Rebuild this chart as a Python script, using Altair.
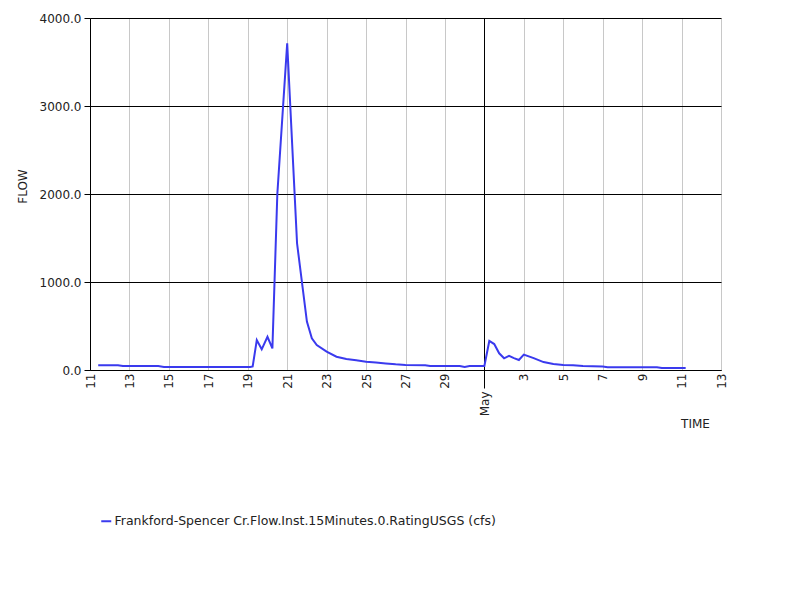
import altair as alt
import pandas as pd

series_name = "Frankford-Spencer Cr.Flow.Inst.15Minutes.0.RatingUSGS (cfs)"

times = [
    "2019-04-11T10:00", "2019-04-12T10:00", "2019-04-12T16:00", "2019-04-14T11:00",
    "2019-04-14T18:00", "2019-04-19T03:00", "2019-04-19T06:00", "2019-04-19T11:00",
    "2019-04-19T17:00", "2019-04-20T00:00", "2019-04-20T06:00", "2019-04-20T12:00",
    "2019-04-21T00:00", "2019-04-21T12:00", "2019-04-22T00:00", "2019-04-22T06:00",
    "2019-04-22T12:00", "2019-04-23T00:00", "2019-04-23T12:00", "2019-04-24T00:00",
    "2019-04-24T12:00", "2019-04-25T00:00", "2019-04-25T12:00", "2019-04-26T00:00",
    "2019-04-26T12:00", "2019-04-27T00:00", "2019-04-28T00:00", "2019-04-28T06:00",
    "2019-04-29T18:00", "2019-04-30T00:00", "2019-04-30T06:00", "2019-05-01T00:00",
    "2019-05-01T06:00", "2019-05-01T12:00", "2019-05-01T18:00", "2019-05-02T00:00",
    "2019-05-02T06:00", "2019-05-02T12:00", "2019-05-02T18:00", "2019-05-03T00:00",
    "2019-05-03T12:00", "2019-05-04T00:00", "2019-05-04T12:00", "2019-05-05T00:00",
    "2019-05-05T12:00", "2019-05-06T00:00", "2019-05-07T00:00", "2019-05-07T06:00",
    "2019-05-09T18:00", "2019-05-10T00:00", "2019-05-11T05:00",
]
flows = [
    55, 55, 45, 45,
    35, 35, 40, 340,
    235, 378, 246, 2000,
    3712, 1440, 550, 360,
    284, 208, 151, 125,
    110, 95, 85, 75,
    65, 58, 55, 45,
    45, 35, 45, 45,
    330, 295, 190, 133,
    160, 135, 114, 175,
    135, 90, 68, 57,
    55, 45, 40, 32,
    32, 22, 22,
]

tick_dates = [(4, d) for d in range(11, 30, 2)] + [(5, d) for d in range(1, 14, 2)]
y_ticks = [0, 1000, 2000, 3000, 4000]

df = pd.DataFrame({"time": times, "flow": flows, "series": series_name})

is_first = "date(datum.value) == 1"

x_axis = alt.Axis(
    values=[alt.DateTime(year=2019, month=m, date=d) for m, d in tick_dates],
    labelExpr="date(datum.value) == 1 ? timeFormat(datum.value, '%b') : timeFormat(datum.value, '%-d')",
    labelAngle=270,
    labelFont="DejaVu Sans",
    labelFontSize=12,
    labelColor="#222222",
    labelPadding=3,
    labelOverlap=False,
    labelFlush=False,
    ticks=True,
    tickSize={"condition": {"test": is_first, "value": 18}, "value": 0},
    tickColor="black",
    domainColor="black",
    grid=True,
    gridColor={"condition": {"test": is_first, "value": "black"}, "value": "#c8c8c8"},
    gridWidth=1,
    title="TIME",
    titleFont="DejaVu Sans",
    titleFontSize=12,
    titleFontWeight="normal",
    titleColor="#222222",
    titleX=605,
    titleY=53,
    titleAlign="center",
    titleBaseline="middle",
)

y_axis = alt.Axis(
    values=y_ticks,
    format=".1f",
    labelFont="DejaVu Sans",
    labelFontSize=12,
    labelColor="#222222",
    labelPadding=3,
    tickSize=6,
    tickColor="black",
    domainColor="black",
    grid=True,
    gridColor="black",
    gridWidth=1,
    title="FLOW",
    titleFont="DejaVu Sans",
    titleFontSize=12,
    titleFontWeight="normal",
    titleColor="#222222",
    titleX=-68,
    titleY=168,
    titleAngle=270,
    titleAlign="center",
    titleBaseline="middle",
)

chart = alt.Chart(df).mark_line(strokeWidth=2).encode(
    x=alt.X("time:T", axis=x_axis,
            scale=alt.Scale(domain=[alt.DateTime(year=2019, month=4, date=11),
                                    alt.DateTime(year=2019, month=5, date=13)])),
    y=alt.Y("flow:Q", axis=y_axis, scale=alt.Scale(domain=[0, 4000], nice=False)),
    color=alt.Color("series:N", scale=alt.Scale(range=["#3a3aee"]),
                    legend=alt.Legend(
                        title=None, orient="none", legendX=10, legendY=497,
                        symbolType="stroke", symbolSize=100, symbolStrokeWidth=2,
                        labelFont="DejaVu Sans", labelFontSize=12.5, labelColor="#222222",
                        labelLimit=600, symbolOffset=0, labelOffset=2,
                    )),
).properties(
    width=631,
    height=352,
    autosize=alt.AutoSizeParams(type="none"),
    padding={"left": 82, "top": 10, "right": 50, "bottom": 190},
).configure_view(
    stroke="black", strokeWidth=1
).configure(background="white")

chart.save("out.html", embed_options={"renderer": "svg", "actions": False})
